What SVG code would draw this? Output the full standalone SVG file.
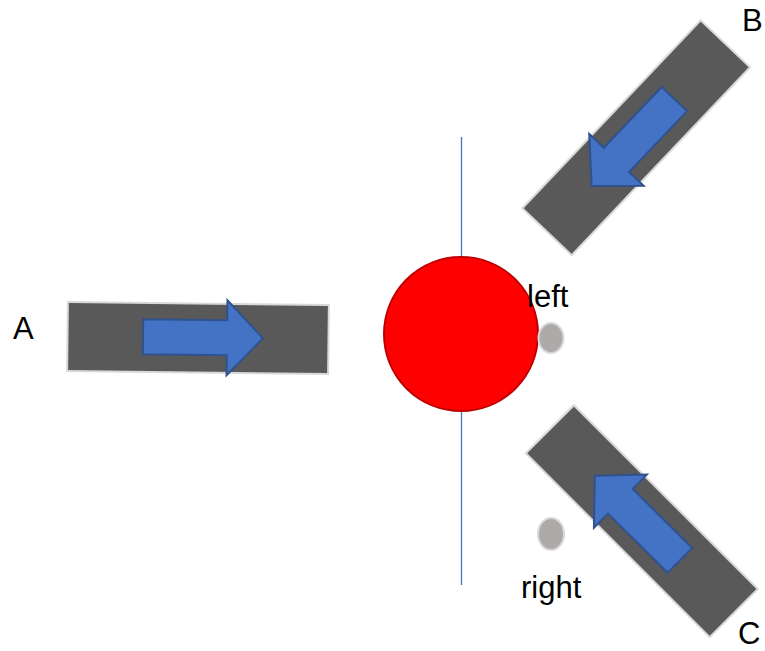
<svg xmlns="http://www.w3.org/2000/svg" width="765" height="651" viewBox="0 0 765 651">
  <style>
    .bar { fill: #595959; stroke: #d9d9d9; stroke-width: 2; }
    .arrow { fill: #4472c4; stroke: #2f528f; stroke-width: 2; stroke-linejoin: miter; }
    .dot { fill: #aeaaaa; stroke: #d9d9d9; stroke-width: 2; }
    .lbl { font-family: "Liberation Sans", Arial, sans-serif; font-size: 31px; fill: #000; }
  </style>
  <defs>
    <path id="arrowShape" d="M-60,-17.5 L24,-17.5 L24,-37.5 L60,0 L24,37.5 L24,17.5 L-60,17.5 Z"/>
  </defs>
  <rect width="765" height="651" fill="#ffffff"/>
  <g id="connectors">
    <line x1="461.5" y1="137" x2="461.5" y2="585" stroke="#4472c4" stroke-width="1.3"/>
  </g>
  <g id="nodeA">
    <rect class="bar" x="-130.5" y="-34.5" width="261" height="69" transform="translate(198,338) rotate(0.66)"/>
    <use href="#arrowShape" class="arrow" transform="translate(203,337.5) rotate(0.7)"/>
    <text class="lbl" x="13" y="339">A</text>
  </g>
  <g id="nodeB">
    <rect class="bar" x="-129.5" y="-34" width="259" height="68" transform="translate(636.2,137.8) rotate(-46.5)"/>
    <use href="#arrowShape" class="arrow" transform="translate(633,142.5) rotate(133.6)"/>
    <text class="lbl" x="742" y="31">B</text>
  </g>
  <g id="nodeC">
    <rect class="bar" x="-130" y="-34" width="260" height="68" transform="translate(641.8,521.2) rotate(45)"/>
    <use href="#arrowShape" class="arrow" transform="translate(637.4,518.1) rotate(-135.2)"/>
    <text class="lbl" x="738" y="644">C</text>
  </g>
  <g id="center">
    <circle cx="461" cy="334" r="77" fill="#ff0000" stroke="#c00000" stroke-width="2"/>
  </g>
  <g id="left">
    <ellipse class="dot" cx="551" cy="338" rx="12.5" ry="15"/>
    <text class="lbl" x="527" y="307">left</text>
  </g>
  <g id="right">
    <ellipse class="dot" cx="551" cy="534" rx="13" ry="16"/>
    <text class="lbl" x="521" y="598">right</text>
  </g>
</svg>
